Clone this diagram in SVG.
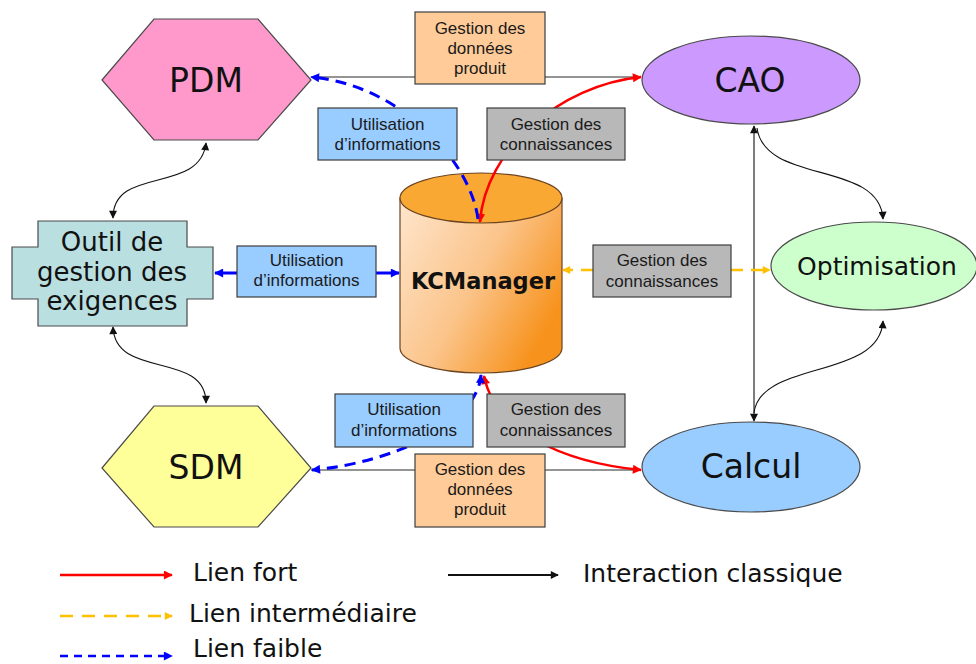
<svg xmlns="http://www.w3.org/2000/svg" width="976" height="664" viewBox="0 0 976 664">
<defs>
<style>
.lbl{font-family:"Liberation Sans",Arial,sans-serif;font-size:17px;fill:#1a1a1a;text-anchor:middle}
.big{font-family:"DejaVu Sans",Verdana,sans-serif;fill:#111;text-anchor:middle}
.leg{font-family:"DejaVu Sans",Verdana,sans-serif;font-size:25px;fill:#111}
.box{stroke:#3c3c3c;stroke-width:1.2}
.orange{fill:#FFCC99}
.blue{fill:#99CCFF}
.grey{fill:#B8B8B8}
.node{stroke:#4a4a4a;stroke-width:1.2}
.red{fill:none;stroke:#FF0000;stroke-width:2.5}
.bl{fill:none;stroke:#0000FF;stroke-width:3;stroke-dasharray:11 7}
.yel{fill:none;stroke:#FFC000;stroke-width:2.5;stroke-dasharray:12 8}
.blk{fill:none;stroke:#111;stroke-width:1.1}
.gry{fill:none;stroke:#707070;stroke-width:1.5}
</style>
<marker id="mr" viewBox="0 0 10 10" refX="9" refY="5" markerUnits="userSpaceOnUse" markerWidth="11" markerHeight="9" orient="auto-start-reverse"><path d="M0,0 L10,5 L0,10 Z" fill="#FF0000"/></marker>
<marker id="mb" viewBox="0 0 10 10" refX="9" refY="5" markerUnits="userSpaceOnUse" markerWidth="10" markerHeight="9" orient="auto-start-reverse"><path d="M0,0 L10,5 L0,10 Z" fill="#0000FF"/></marker>
<marker id="my" viewBox="0 0 10 10" refX="9" refY="5" markerUnits="userSpaceOnUse" markerWidth="9" markerHeight="8" orient="auto-start-reverse"><path d="M0,0 L10,5 L0,10 Z" fill="#FFC000"/></marker>
<marker id="mk" viewBox="0 0 10 10" refX="9" refY="5" markerUnits="userSpaceOnUse" markerWidth="9" markerHeight="8" orient="auto-start-reverse"><path d="M0,0 L10,5 L0,10 Z" fill="#111"/></marker>
<linearGradient id="cyl" x1="0" y1="0" x2="1" y2="0.6">
<stop offset="0" stop-color="#FEE6CE"/>
<stop offset="0.55" stop-color="#FBC48A"/>
<stop offset="1" stop-color="#F7921C"/>
</linearGradient>
</defs>

<g id="PDM">
<polygon class="node" points="102,80 154,19 258,19 311,80 258,140 154,140" fill="#FF99CC"/>
<text class="big" x="206" y="92" font-size="33">PDM</text>
</g>
<g id="SDM">
<polygon class="node" points="102,468 154,406 258,406 311,468 258,527 154,527" fill="#FFFF99"/>
<text class="big" x="206" y="479" font-size="33">SDM</text>
</g>
<g id="CAO">
<ellipse class="node" cx="751" cy="80" rx="109" ry="44" fill="#CC99FF"/>
<text class="big" x="750" y="92" font-size="33">CAO</text>
</g>
<g id="Calcul">
<ellipse class="node" cx="751" cy="467" rx="109" ry="45" fill="#99CCFF"/>
<text class="big" x="751" y="478" font-size="33">Calcul</text>
</g>
<g id="Optimisation">
<ellipse class="node" cx="874" cy="266" rx="103" ry="44" fill="#CCFFCC"/>
<text class="big" x="877" y="275" font-size="25">Optimisation</text>
</g>
<g id="Outil">
<polygon class="node" points="38,221 187,221 187,247 213,247 213,299 187,299 187,326 38,326 38,299 12,299 12,247 38,247" fill="#B9DFE1"/>
<text class="big" x="112" y="251" font-size="26">Outil de</text>
<text class="big" x="112" y="281" font-size="26">gestion des</text>
<text class="big" x="112" y="310" font-size="26">exigences</text>
</g>
<g id="KCManager">
<path d="M400,198 L400,348 A81,25 0 0 0 562,348 L562,198 Z" fill="url(#cyl)" stroke="#6b4420" stroke-width="1.2"/>
<ellipse cx="481" cy="198" rx="81" ry="25" fill="#F9A834" stroke="#6b4420" stroke-width="1.2"/>
<text x="483" y="289" font-family="'DejaVu Sans',Verdana,sans-serif" font-weight="bold" font-size="22.5" fill="#111" text-anchor="middle">KCManager</text>
</g>

<g id="connectors">
<path class="gry" d="M311,77 L641,77"/>
<path class="gry" d="M311,470 L641,470"/>
<path class="red" d="M480,222 C485,150 560,85 641,77" marker-start="url(#mr)" marker-end="url(#mr)"/>
<path class="bl" d="M478,219 C470,160 400,85 311,77" marker-end="url(#mb)"/>
<path class="red" d="M484,376 C495,430 560,462 641,470" marker-start="url(#mr)" marker-end="url(#mr)"/>
<path class="bl" d="M481,375 C478,420 400,462 312,470" marker-start="url(#mb)" marker-end="url(#mb)"/>
<path class="blk" d="M754,126 L754,421" marker-start="url(#mk)" marker-end="url(#mk)"/>
<path class="blk" d="M757,128 C765,185 880,160 883,219" marker-end="url(#mk)"/>
<path class="blk" d="M754,413 C760,360 880,380 883,321" marker-end="url(#mk)"/>
<path class="blk" d="M206,143 C200,195 113,165 113,218" marker-start="url(#mk)" marker-end="url(#mk)"/>
<path class="blk" d="M113,327 C115,380 206,350 206,403" marker-start="url(#mk)" marker-end="url(#mk)"/>
<path d="M237,273 L215,273" fill="none" stroke="#0000FF" stroke-width="3" marker-end="url(#mb)"/>
<path d="M376,273 L399,273" fill="none" stroke="#0000FF" stroke-width="3" marker-end="url(#mb)"/>
<path d="M593,270 L563,270" class="yel" marker-end="url(#my)"/>
<path d="M731,270 L770,270" class="yel" marker-end="url(#my)"/>
</g>

<g id="label-gdp-top">
<rect class="box orange" x="415" y="12" width="130" height="72"/>
<text class="lbl" x="480" y="34">Gestion des</text>
<text class="lbl" x="480" y="54">données</text>
<text class="lbl" x="480" y="74">produit</text>
</g>
<g id="label-ui-top">
<rect class="box blue" x="318" y="108" width="139" height="52"/>
<text class="lbl" x="387.5" y="130">Utilisation</text>
<text class="lbl" x="387.5" y="150">d’informations</text>
</g>
<g id="label-gc-top">
<rect class="box grey" x="487" y="108" width="138" height="52"/>
<text class="lbl" x="556" y="130">Gestion des</text>
<text class="lbl" x="556" y="150">connaissances</text>
</g>
<g id="label-ui-mid">
<rect class="box blue" x="237" y="246" width="139" height="51"/>
<text class="lbl" x="306.5" y="266">Utilisation</text>
<text class="lbl" x="306.5" y="286">d’informations</text>
</g>
<g id="label-gc-mid">
<rect class="box grey" x="593" y="245" width="138" height="52"/>
<text class="lbl" x="662" y="266">Gestion des</text>
<text class="lbl" x="662" y="287">connaissances</text>
</g>
<g id="label-ui-bot">
<rect class="box blue" x="335" y="394" width="138" height="53"/>
<text class="lbl" x="404" y="415">Utilisation</text>
<text class="lbl" x="404" y="436">d’informations</text>
</g>
<g id="label-gc-bot">
<rect class="box grey" x="487" y="394" width="138" height="53"/>
<text class="lbl" x="556" y="415">Gestion des</text>
<text class="lbl" x="556" y="436">connaissances</text>
</g>
<g id="label-gdp-bot">
<rect class="box orange" x="415" y="454" width="130" height="73"/>
<text class="lbl" x="480" y="475">Gestion des</text>
<text class="lbl" x="480" y="495">données</text>
<text class="lbl" x="480" y="515">produit</text>
</g>

<g id="legend">
<path d="M60,575 L172,575" fill="none" stroke="#FF0000" stroke-width="2.5" marker-end="url(#mr)"/>
<text class="leg" x="193" y="581">Lien fort</text>
<path d="M60,616 L172,616" fill="none" stroke="#FFC000" stroke-width="2.5" stroke-dasharray="13 9" marker-end="url(#my)"/>
<text class="leg" x="189" y="622">Lien intermédiaire</text>
<path d="M60,656 L172,656" fill="none" stroke="#0000FF" stroke-width="2.5" stroke-dasharray="8 6" marker-end="url(#mb)"/>
<text class="leg" x="193" y="657" font-size="24">Lien faible</text>
<path d="M448,575 L558,575" fill="none" stroke="#111" stroke-width="2" marker-end="url(#mk)"/>
<text class="leg" x="583" y="582">Interaction classique</text>
</g>
</svg>
